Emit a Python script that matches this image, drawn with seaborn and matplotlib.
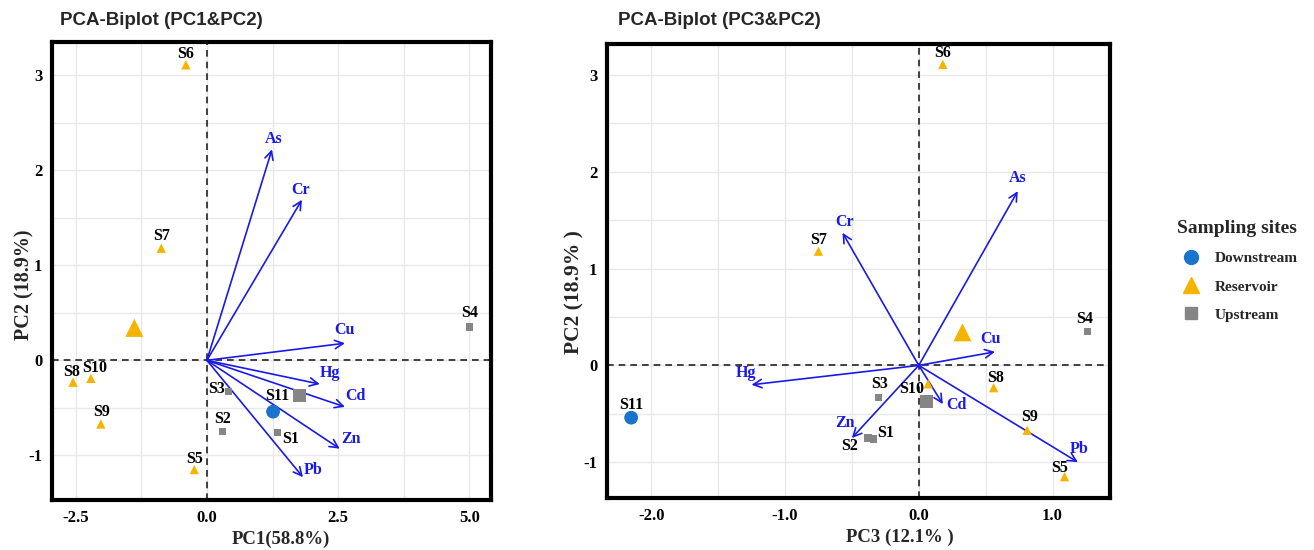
import pandas as pd
import matplotlib.pyplot as plt
from matplotlib.lines import Line2D
import seaborn as sns

# sample scores
sites = ['S1', 'S2', 'S3', 'S4', 'S5', 'S6', 'S7', 'S8', 'S9', 'S10', 'S11']
groups = ['Upstream'] * 4 + ['Reservoir'] * 6 + ['Downstream']
pc1 = [1.34, 0.30, 0.41, 5.00, -0.24, -0.40, -0.87, -2.55, -2.02, -2.21, 1.26]
pc2 = [-0.76, -0.75, -0.33, 0.35, -1.15, 3.11, 1.18, -0.23, -0.67, -0.19, -0.54]
pc3 = [-0.34, -0.38, -0.30, 1.26, 1.09, 0.18, -0.75, 0.56, 0.81, 0.07, -2.15]

# loadings (arrow tips)
metals = ['As', 'Cr', 'Cu', 'Hg', 'Cd', 'Zn', 'Pb']
load_pc1 = [1.24, 1.81, 2.63, 2.15, 2.63, 2.53, 1.83]
load_pc2 = [2.22, 1.69, 0.18, -0.25, -0.49, -0.93, -1.23]
load_pc3_r = [0.74, -0.57, 0.57, -1.25, 0.18, -0.50, 1.19]
load_pc2_r = [1.80, 1.37, 0.14, -0.20, -0.40, -0.75, -1.00]

df = pd.DataFrame({'site': sites, 'group': groups, 'PC1': pc1, 'PC2': pc2, 'PC3': pc3})
cent = df.groupby('group')[['PC1', 'PC2', 'PC3']].mean().reset_index()

palette = {'Downstream': '#1874CD', 'Reservoir': '#F5B400', 'Upstream': '#858585'}
markers = {'Downstream': 'o', 'Reservoir': '^', 'Upstream': 's'}
small = {'Downstream': 90, 'Reservoir': 45, 'Upstream': 28}
big = {'Downstream': 95, 'Reservoir': 170, 'Upstream': 90}

serif = 'Liberation Serif'
sans = 'Liberation Sans'

# label offsets in pixels
site_off_l = {'S1': (13, -6), 'S2': (0, 13), 'S3': (-12, 3), 'S4': (0, 14), 'S5': (0, 11),
              'S6': (0, 11), 'S7': (0, 12), 'S8': (-1, 10), 'S9': (1, 12), 'S10': (4, 10), 'S11': (4, 16)}
site_off_r = {'S1': (12, 6), 'S2': (-18, -8), 'S3': (1, 13), 'S4': (-3, 13), 'S5': (-5, 9),
              'S6': (0, 11), 'S7': (0, 11), 'S8': (2, 10), 'S9': (2, 13), 'S10': (-16, -5), 'S11': (0, 13)}
load_off_l = {'As': (2, 10), 'Cr': (-1, 10), 'Cu': (0, 13), 'Hg': (10, 11), 'Cd': (10, 11),
              'Zn': (11, 10), 'Pb': (10, 7)}
load_off_r = {'As': (0, 13), 'Cr': (2, 11), 'Cu': (-5, 13), 'Hg': (-6, 12), 'Cd': (14, -1),
              'Zn': (-7, 15), 'Pb': (1, 13)}

sns.set_theme(style='white')

fig = plt.figure(figsize=(13.14, 5.5), dpi=100)
ax1 = fig.add_axes([0.0396, 0.0909, 0.334, 0.8327])
ax2 = fig.add_axes([0.462, 0.0945, 0.3828, 0.8255])


def biplot(ax, xcol, ycol, lx, ly, site_off, load_off, xlim, ylim, xticks, xminor, yticks, yminor,
           xlabel, ylabel, title, tx, xlab_pos, ylab_pos, ylab_size):
    ax.set_xlim(xlim)
    ax.set_ylim(ylim)
    for v in xticks + xminor:
        ax.axvline(v, color='#E8E8E8', lw=1, zorder=0)
    for v in yticks + yminor:
        ax.axhline(v, color='#E8E8E8', lw=1, zorder=0)
    ax.axvline(0, color='#222222', lw=1.2, ls=(0, (4, 3)), zorder=1)
    ax.axhline(0, color='#222222', lw=1.2, ls=(0, (4, 3)), zorder=1)

    for g in ['Upstream', 'Reservoir', 'Downstream']:
        sub = df[df.group == g]
        sns.scatterplot(data=sub, x=xcol, y=ycol, ax=ax, color=palette[g], marker=markers[g],
                        s=small[g], edgecolor='none', legend=False, zorder=3)
        c = cent[cent.group == g]
        sns.scatterplot(data=c, x=xcol, y=ycol, ax=ax, color=palette[g], marker=markers[g],
                        s=big[g], edgecolor='none', legend=False, zorder=3)

    for _, r in df.iterrows():
        ax.annotate(r.site, (r[xcol], r[ycol]), xytext=site_off[r.site], textcoords='offset pixels',
                    ha='center', va='center', fontsize=11.5, fontweight='bold', family=serif,
                    color='black', zorder=4)

    for m, x, y in zip(metals, lx, ly):
        ax.annotate('', xy=(x, y), xytext=(0, 0),
                    arrowprops=dict(arrowstyle='->', color='#1A1AE6', lw=1.2,
                                    mutation_scale=15, shrinkA=0, shrinkB=0), zorder=2)
        ax.annotate(m, (x, y), xytext=load_off[m], textcoords='offset pixels', ha='center', va='center',
                    fontsize=11.5, fontweight='bold', family=serif, color='#1A1AE6', zorder=4)

    ax.set_xticks(xticks)
    ax.set_xticklabels([f'{v:.1f}' for v in xticks])
    ax.set_yticks(yticks)
    ax.set_yticklabels([f'{v:g}' for v in yticks])
    ax.tick_params(direction='out', length=4, width=1, color='black', pad=3)
    for lab in ax.get_xticklabels() + ax.get_yticklabels():
        lab.set_family(serif)
        lab.set_fontweight('bold')
        lab.set_fontsize(12)
        lab.set_color('black')
    ax.set_xlabel(xlabel, family=serif, fontweight='bold', fontsize=13.5)
    ax.xaxis.set_label_coords(*xlab_pos)
    ax.set_ylabel(ylabel, family=serif, fontweight='bold', fontsize=ylab_size)
    ax.yaxis.set_label_coords(*ylab_pos)
    for s in ax.spines.values():
        s.set_linewidth(3)
        s.set_color('black')
    fig.text(tx, 0.963, title, family=sans, fontweight='bold', fontsize=13.5, ha='left', va='center')


biplot(ax1, 'PC1', 'PC2', load_pc1, load_pc2, site_off_l, load_off_l,
       (-2.95, 5.41), (-1.47, 3.35), [-2.5, 0.0, 2.5, 5.0], [-1.25, 1.25, 3.75],
       [-1, 0, 1, 2, 3], [-0.5, 0.5, 1.5, 2.5], 'PC1(58.8%)', 'PC2 (18.9%)',
       'PCA-Biplot (PC1&PC2)', 60 / 1314, (0.522, -0.066), (-0.04, 0.47), 14.5)
biplot(ax2, 'PC3', 'PC2', load_pc3_r, load_pc2_r, site_off_r, load_off_r,
       (-2.33, 1.43), (-1.37, 3.32), [-2.0, -1.0, 0.0, 1.0], [-1.5, -0.5, 0.5],
       [-1, 0, 1, 2, 3], [-0.5, 0.5, 1.5, 2.5], 'PC3 (12.1% )', 'PC2 (18.9% )',
       'PCA-Biplot (PC3&PC2)', 618 / 1314, (0.582, -0.068), (-0.045, 0.454), 15.5)

handles = [Line2D([], [], ls='none', marker=markers[g], color=palette[g], markersize=ms)
           for g, ms in [('Downstream', 10), ('Reservoir', 11), ('Upstream', 8)]]
leg = fig.legend(handles, ['Downstream', 'Reservoir', 'Upstream'], title='Sampling sites',
                 loc='upper left', bbox_to_anchor=(1170 / 1314, 1 - 214 / 550), frameon=False,
                 labelspacing=0.95, handletextpad=0.5, borderaxespad=0,
                 prop={'family': serif, 'weight': 'bold', 'size': 11})
leg.get_title().set_fontproperties({'family': serif, 'weight': 'bold', 'size': 14})

fig.savefig('out.png', dpi=100)
